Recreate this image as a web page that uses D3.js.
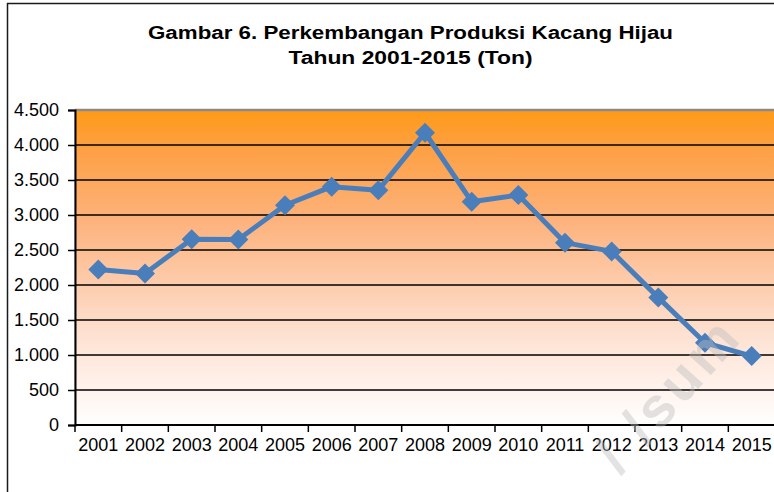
<!DOCTYPE html>
<html>
<head>
<meta charset="utf-8">
<script src="https://cdn.jsdelivr.net/npm/d3@7"></script>
<style>
html,body{margin:0;padding:0;background:#fff;}
svg{display:block;}
text{font-family:"Liberation Sans", Arial, sans-serif;}
</style>
</head>
<body>
<div id="chart"></div>
<script>
const titleLines = ["Gambar 6. Perkembangan Produksi Kacang Hijau", "Tahun 2001-2015 (Ton)"];
const years = ["2001","2002","2003","2004","2005","2006","2007","2008","2009","2010","2011","2012","2013","2014","2015"];
const produksi = [2220, 2165, 2655, 2650, 3140, 3405, 3355, 4175, 3190, 3285, 2605, 2480, 1820, 1175, 985];
const yTicks = [0, 500, 1000, 1500, 2000, 2500, 3000, 3500, 4000, 4500];
const watermark = "/ /sum";

const W = 774, H = 492;
const plot = {left: 75, right: 775, top: 110, bottom: 425};

const svg = d3.select("#chart").append("svg").attr("width", W).attr("height", H);

// outer chart border
svg.append("rect").attr("x", 7.5).attr("y", 3.5).attr("width", 820).attr("height", 540)
  .attr("fill", "#fff").attr("stroke", "#1a1a1a").attr("stroke-width", 1.5);

// title
const tY = [39, 64], tW = [525, 244];
titleLines.forEach((t, i) => {
  svg.append("text").attr("x", 410.5).attr("y", tY[i]).attr("text-anchor", "middle")
    .attr("font-size", 18).attr("font-weight", "bold").attr("fill", "#000")
    .attr("textLength", tW[i]).attr("lengthAdjust", "spacingAndGlyphs").text(t);
});

const x = d3.scaleBand().domain(years).range([plot.left, plot.right]).padding(0);
const y = d3.scaleLinear().domain([0, 4500]).range([plot.bottom, plot.top]);

// gradient
const defs = svg.append("defs");
const grad = defs.append("linearGradient").attr("id", "bg").attr("x1", 0).attr("y1", 0).attr("x2", 0).attr("y2", 1);
[[0, "#ff9a17"], [0.12, "#fda043"], [0.35, "#fdb27c"], [0.55, "#fdccac"], [0.72, "#fde2d3"], [0.87, "#fff1ea"], [1, "#ffffff"]]
  .forEach(([o, c]) => grad.append("stop").attr("offset", o).attr("stop-color", c));

svg.append("rect").attr("x", plot.left).attr("y", plot.top)
  .attr("width", plot.right - plot.left).attr("height", plot.bottom - plot.top)
  .attr("fill", "url(#bg)").attr("stroke", "#9a9a9a").attr("stroke-width", 1);

// gridlines
svg.append("g").selectAll("line").data(yTicks.filter(v => v > 0 && v < 4500)).join("line")
  .attr("x1", plot.left).attr("x2", plot.right)
  .attr("y1", d => y(d)).attr("y2", d => y(d))
  .attr("stroke", "#000").attr("stroke-width", 1.6);
svg.append("line").attr("x1", plot.left).attr("x2", plot.right)
  .attr("y1", y(4500)).attr("y2", y(4500)).attr("stroke", "#8a8a8a").attr("stroke-width", 2.5);

// y axis
const yAxis = svg.append("g").attr("transform", `translate(${plot.left},0)`)
  .call(d3.axisLeft(y).tickValues(yTicks).tickSize(7).tickPadding(9)
    .tickFormat(d => d3.format(",")(d).replace(/,/g, ".")));
yAxis.select(".domain").attr("stroke", "#000").attr("stroke-width", 2);
yAxis.selectAll(".tick line").attr("stroke", "#000").attr("stroke-width", 1.5);
yAxis.selectAll(".tick text").attr("font-size", 18).attr("fill", "#000")
  .attr("font-family", "'Liberation Sans', Arial, sans-serif");

// x axis
const xAxis = svg.append("g").attr("transform", `translate(0,${plot.bottom})`)
  .call(d3.axisBottom(x).tickSize(0).tickPadding(9));
xAxis.select(".domain").remove();
xAxis.append("line").attr("x1", plot.left).attr("x2", plot.right).attr("stroke", "#000").attr("stroke-width", 2);
xAxis.append("g").selectAll("line").data(years).join("line")
  .attr("x1", d => x(d)).attr("x2", d => x(d)).attr("y1", 0).attr("y2", 7)
  .attr("stroke", "#000").attr("stroke-width", 1.5);
xAxis.selectAll(".tick text").attr("font-size", 18).attr("fill", "#000")
  .attr("font-family", "'Liberation Sans', Arial, sans-serif").attr("dy", "0.95em");

// line
const cx = d => x(d) + x.bandwidth() / 2;
svg.append("path").datum(produksi.map((v, i) => [years[i], v]))
  .attr("fill", "none").attr("stroke", "#4a7ebb").attr("stroke-width", 5).attr("stroke-linejoin", "round")
  .attr("d", d3.line().x(d => cx(d[0])).y(d => y(d[1])));

// markers
svg.append("g").selectAll("path").data(produksi.map((v, i) => [years[i], v])).join("path")
  .attr("d", d3.symbol(d3.symbolSquare, 200)())
  .attr("transform", d => `translate(${cx(d[0])},${y(d[1])}) rotate(45)`)
  .attr("fill", "#4a7ebb");

// watermark
svg.append("text").attr("transform", "translate(620,476) rotate(-48)")
  .attr("font-size", 56).attr("font-weight", "bold").attr("fill", "#bdbdbd").attr("opacity", 0.42)
  .attr("letter-spacing", 4).text(watermark);
</script>
</body>
</html>
